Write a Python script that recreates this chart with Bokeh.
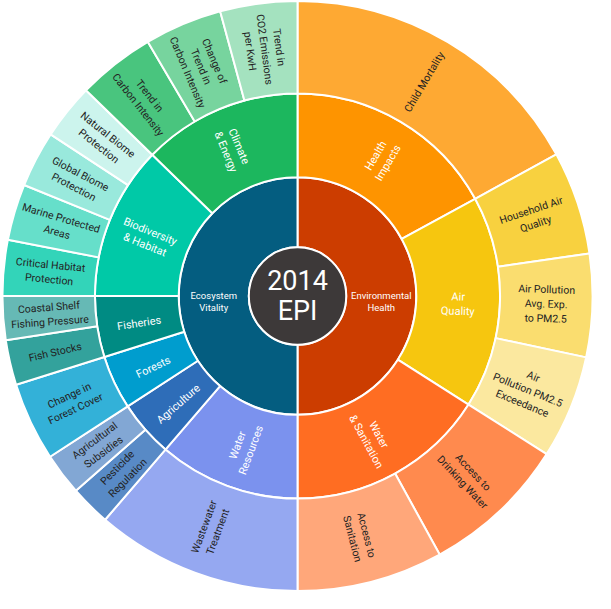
import math
from bokeh.plotting import figure
from bokeh.models import ColumnDataSource
from bokeh.core.properties import value
from bokeh.embed import file_html
from bokeh.resources import INLINE

# ---------------- data (clockwise from 12 o'clock) ----------------
pillars = ["Environmental Health", "Ecosystem Vitality"]
pillar_labels = ["Environmental\nHealth", "Ecosystem\nVitality"]

categories = ["Health Impacts", "Air Quality", "Water & Sanitation",
              "Water Resources", "Agriculture", "Forests", "Fisheries",
              "Biodiversity & Habitat", "Climate & Energy"]
category_labels = ["Health\nImpacts", "Air\nQuality", "Water\n& Sanitation",
                   "Water\nResources", "Agriculture", "Forests", "Fisheries",
                   "Biodiversity\n& Habitat", "Climate\n& Energy"]
category_pillar = ["Environmental Health"] * 3 + ["Ecosystem Vitality"] * 6

indicators = ["Child Mortality",
              "Household Air Quality", "Air Pollution Avg. Exp. to PM2.5",
              "Air Pollution PM2.5 Exceedance",
              "Access to Drinking Water", "Access to Sanitation",
              "Wastewater Treatment",
              "Pesticide Regulation", "Agricultural Subsidies",
              "Change in Forest Cover",
              "Fish Stocks", "Coastal Shelf Fishing Pressure",
              "Critical Habitat Protection", "Marine Protected Areas",
              "Global Biome Protection", "Natural Biome Protection",
              "Trend in Carbon Intensity", "Change of Trend in Carbon Intensity",
              "Trend in CO2 Emissions per KwH"]
indicator_labels = ["Child Mortality",
                    "Household Air\nQuality", "Air Pollution\nAvg. Exp.\nto PM2.5",
                    "Air\nPollution PM2.5\nExceedance",
                    "Access to\nDrinking Water", "Access to\nSanitation",
                    "Wastewater\nTreatment",
                    "Pesticide\nRegulation", "Agricultural\nSubsidies",
                    "Change in\nForest Cover",
                    "Fish Stocks", "Coastal Shelf\nFishing Pressure",
                    "Critical Habitat\nProtection", "Marine Protected\nAreas",
                    "Global Biome\nProtection", "Natural Biome\nProtection",
                    "Trend in\nCarbon Intensity", "Change of\nTrend in\nCarbon Intensity",
                    "Trend in\nCO2 Emissions\nper KwH"]
indicator_category = ["Health Impacts",
                      "Air Quality", "Air Quality", "Air Quality",
                      "Water & Sanitation", "Water & Sanitation",
                      "Water Resources",
                      "Agriculture", "Agriculture",
                      "Forests",
                      "Fisheries", "Fisheries",
                      "Biodiversity & Habitat", "Biodiversity & Habitat",
                      "Biodiversity & Habitat", "Biodiversity & Habitat",
                      "Climate & Energy", "Climate & Energy", "Climate & Energy"]
indicator_weight = [61.3,
                    20.4, 20.3, 20.4,
                    28.8, 28.8,
                    40.7,
                    8.0, 8.3,
                    15.5,
                    8.9, 8.6,
                    11.0, 11.1, 11.1, 11.0,
                    15.3, 15.3, 15.2]

center_label = "2014\nEPI"

# ---------------- styles ----------------
pillar_colors = {"Environmental Health": "#cc3d00", "Ecosystem Vitality": "#045d80"}
category_colors = {"Health Impacts": "#fe9400", "Air Quality": "#f6c60f",
                   "Water & Sanitation": "#ff6d22", "Water Resources": "#7b92ee",
                   "Agriculture": "#2e6db8", "Forests": "#009dce",
                   "Fisheries": "#008b83", "Biodiversity & Habitat": "#00c9a7",
                   "Climate & Energy": "#1cb75e"}
center_color = "#3d3939"
dark_text = "#232323"
FONT = "Roboto"

# radii in reference-pixel units (the ranges map them onto the canvas)
R0, R1, R2, R3 = 50, 122, 208, 303


def tint(hex_color, t):
    h = hex_color.lstrip("#")
    rgb = [int(h[i:i + 2], 16) for i in (0, 2, 4)]
    mixed = [round(c + (255 - c) * t) for c in rgb]
    return "#%02x%02x%02x" % tuple(mixed)


total = sum(indicator_weight)
scale = 360.0 / total

# cumulative angles of leaves (degrees clockwise from top)
leaf_start = []
acc = 0.0
for w in indicator_weight:
    leaf_start.append(acc)
    acc += w * scale
leaf_end = [s + w * scale for s, w in zip(leaf_start, indicator_weight)]


def text_angle(theta_deg):
    if theta_deg < 180:
        return math.radians(90 - theta_deg)
    return math.radians(270 - theta_deg)


def ring_source(starts, ends, r_in, r_out, labels, colors, shift=0.0):
    mids = [(a + b) / 2 for a, b in zip(starts, ends)]
    rm = (r_in + r_out) / 2
    ang = [text_angle(m) for m in mids]
    tx = [rm * math.sin(math.radians(m)) + shift * math.sin(a)
          for m, a in zip(mids, ang)]
    ty = [rm * math.cos(math.radians(m)) - shift * math.cos(a)
          for m, a in zip(mids, ang)]
    return ColumnDataSource(dict(
        start=[math.radians(90 - a) for a in starts],
        end=[math.radians(90 - b) for b in ends],
        color=colors, label=labels, tx=tx, ty=ty, ta=ang,
    ))


# leaf ring
leaf_colors = []
seen = {}
for c in indicator_category:
    seen[c] = seen.get(c, 0) + 1
    leaf_colors.append(tint(category_colors[c], 0.2 * seen[c]))
src3 = ring_source(leaf_start, leaf_end, R2, R3, indicator_labels, leaf_colors)

# category ring
cat_start, cat_end = [], []
for c in categories:
    idx = [i for i, x in enumerate(indicator_category) if x == c]
    cat_start.append(leaf_start[idx[0]])
    cat_end.append(leaf_end[idx[-1]])
src2 = ring_source(cat_start, cat_end, R1, R2, category_labels,
                   [category_colors[c] for c in categories], shift=3.0)

# pillar ring
pil_start, pil_end = [], []
for pl in pillars:
    idx = [i for i, x in enumerate(category_pillar) if x == pl]
    pil_start.append(cat_start[idx[0]])
    pil_end.append(cat_end[idx[-1]])
src1 = ring_source(pil_start, pil_end, R0, R1, pillar_labels,
                   [pillar_colors[p] for p in pillars], shift=5.5)

# ---------------- figure ----------------
W, H = 595, 593
p = figure(width=W, height=H, x_range=(-305, 306), y_range=(-305.5, 303.5),
           output_backend="svg", toolbar_location=None, min_border=0,
           tools="")
p.axis.visible = False
p.grid.visible = False
p.outline_line_color = None
p.background_fill_color = "white"
p.border_fill_color = "white"

for src, r_in, r_out in ((src1, R0, R1), (src2, R1, R2), (src3, R2, R3)):
    p.annular_wedge(x=0, y=0, inner_radius=r_in, outer_radius=r_out,
                    start_angle="start", end_angle="end", direction="clock",
                    fill_color="color", line_color="white", line_width=2,
                    source=src)

p.circle(x=[0], y=[0], radius=R0, fill_color=center_color,
         line_color="white", line_width=2)

p.text(x="tx", y="ty", text="label", angle="ta", source=src3,
       text_align="center", text_baseline="middle",
       text_font=value(FONT), text_font_size="10.5px",
       text_color=dark_text, text_line_height=1.12)
p.text(x="tx", y="ty", text="label", angle="ta", source=src2,
       text_align="center", text_baseline="middle",
       text_font=value(FONT), text_font_size="11px",
       text_color="white", text_line_height=1.1)
p.text(x="tx", y="ty", text="label", angle="ta", source=src1,
       text_align="center", text_baseline="middle",
       text_font=value(FONT), text_font_size="9.5px",
       text_color="white", text_line_height=1.1)
p.text(x=[0], y=[0], text=[center_label], text_align="center",
       text_baseline="middle", text_font=value(FONT), text_font_size="27px",
       text_color="white", text_line_height=0.95)

open("out.html", "w").write(file_html(p, INLINE))
